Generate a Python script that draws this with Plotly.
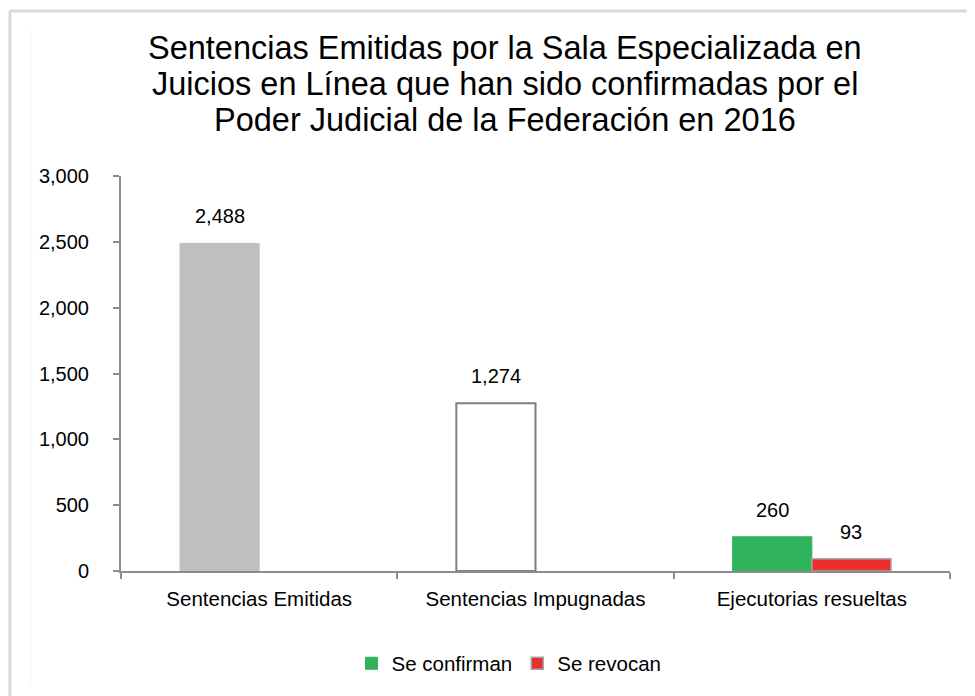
import plotly.graph_objects as go

categories = ["Sentencias Emitidas", "Sentencias Impugnadas", "Ejecutorias resueltas"]
emitidas = [2488]
impugnadas = [1274]
confirman = [260]
revocan = [93]
y_ticks = [0, 500, 1000, 1500, 2000, 2500, 3000]
y_tick_labels = ["0", "500", "1,000", "1,500", "2,000", "2,500", "3,000"]
title_lines = ["Sentencias Emitidas por la Sala Especializada en",
               "Juicios en Línea que han sido confirmadas por el",
               "Poder Judicial de la Federación en 2016"]

FONT = "Liberation Sans, Arial, sans-serif"

fig = go.Figure()
fig.add_trace(go.Bar(x=[categories[0]], y=emitidas, offsetgroup="a", showlegend=False,
                     marker=dict(color="#bfbfbf", line=dict(color="#bfbfbf", width=1))))
fig.add_trace(go.Bar(x=[categories[1]], y=impugnadas, offsetgroup="a", showlegend=False,
                     marker=dict(color="#ffffff", line=dict(color="#7f7f7f", width=2))))
fig.add_trace(go.Bar(x=[categories[2]], y=confirman, offsetgroup="a", name="Se confirman",
                     marker=dict(color="#2fb35c", line=dict(color="#2fb35c", width=1))))
fig.add_trace(go.Bar(x=[categories[2]], y=revocan, offsetgroup="b", name="Se revocan",
                     marker=dict(color="#ea2f2c", line=dict(color="#a6a6a6", width=1.5))))

def fmt(v):
    return f"{v:,}"

labels = [(categories[0], emitidas[0], -1), (categories[1], impugnadas[0], -1),
          (categories[2], confirman[0], -1), (categories[2], revocan[0], 1)]
for cat, val, side in labels:
    fig.add_annotation(x=cat, y=val, xref="x", yref="y", text=fmt(val), showarrow=False,
                       xanchor="center", yanchor="bottom", xshift=side * 39.5, yshift=14,
                       font=dict(family=FONT, size=20, color="#000000"))

for i, line in enumerate(title_lines):
    fig.add_annotation(x=0.463, y=1, xref="paper", yref="paper", yshift=128 - 36 * i, text=line,
                       showarrow=False, xanchor="center", yanchor="middle", align="center",
                       font=dict(family=FONT, size=32.5, color="#000000"))

# frame lines
fig.add_shape(type="line", xref="paper", yref="paper", x0=-0.134, x1=1.04, y0=1.418, y1=1.418,
              line=dict(color="#d9d9d9", width=3))
fig.add_shape(type="line", xref="paper", yref="paper", x0=-0.134, x1=-0.134, y0=1.418, y1=-0.32,
              line=dict(color="#d9d9d9", width=3))
fig.add_shape(type="line", xref="paper", yref="paper", x0=-0.109, x1=-0.109, y0=1.37, y1=-0.29,
              line=dict(color="#f4f4f4", width=1))

fig.update_layout(
    width=967, height=688,
    margin=dict(l=113, r=25, t=168, b=123),
    paper_bgcolor="#ffffff", plot_bgcolor="#ffffff",
    barmode="group", bargap=0.427, bargroupgap=0,
    font=dict(family=FONT, size=20, color="#000000"),
    showlegend=True,
    legend=dict(orientation="h", x=0.468, y=-0.234, xanchor="center", yanchor="middle",
                font=dict(family=FONT, size=20.5, color="#000000"), itemwidth=30,
                traceorder="normal", bgcolor="rgba(0,0,0,0)"),
)
fig.update_xaxes(type="category", categoryorder="array", categoryarray=categories,
                 showline=True, linecolor="#8c8c8c", linewidth=2, showgrid=False,
                 ticks="outside", tickson="boundaries", ticklen=6, tickcolor="#8c8c8c", tickwidth=2,
                 ticklabelstandoff=8, automargin=False,
                 tickfont=dict(family=FONT, size=20.5, color="#000000"))
fig.update_yaxes(range=[0, 3000], tickvals=y_ticks, ticktext=y_tick_labels,
                 showline=True, linecolor="#8c8c8c", linewidth=2, showgrid=False, zeroline=False,
                 ticks="outside", ticklen=6, tickcolor="#8c8c8c", tickwidth=2,
                 ticklabelstandoff=20, automargin=False,
                 tickfont=dict(family=FONT, size=20, color="#000000"))

fig.write_html("out.html")
